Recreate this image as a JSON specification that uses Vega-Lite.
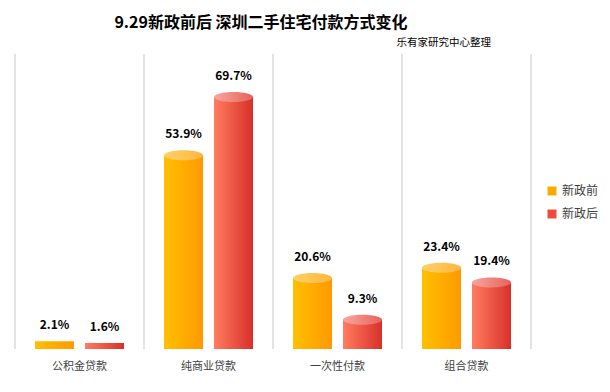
{
  "$schema": "https://vega.github.io/schema/vega-lite/v6.json",
  "width": 516,
  "height": 295,
  "autosize": {"type": "none"},
  "padding": {"left": 15, "top": 54, "right": 79, "bottom": 43},
  "background": "white",
  "config": {
    "font": "Noto Sans CJK SC",
    "view": {"stroke": null}
  },
  "title": {
    "text": "9.29新政前后 深圳二手住宅付款方式变化",
    "anchor": "middle",
    "frame": "group",
    "fontSize": 16,
    "fontWeight": "bold",
    "font": "Noto Sans CJK SC",
    "color": "#000000",
    "offset": 7,
    "dx": -12
  },
  "data": {
    "values": [
      {"cat": "公积金贷款", "series": "新政前", "value": 2.1, "label": "2.1%"},
      {"cat": "公积金贷款", "series": "新政后", "value": 1.6, "label": "1.6%"},
      {"cat": "纯商业贷款", "series": "新政前", "value": 53.9, "label": "53.9%"},
      {"cat": "纯商业贷款", "series": "新政后", "value": 69.7, "label": "69.7%"},
      {"cat": "一次性付款", "series": "新政前", "value": 20.6, "label": "20.6%"},
      {"cat": "一次性付款", "series": "新政后", "value": 9.3, "label": "9.3%"},
      {"cat": "组合贷款", "series": "新政前", "value": 23.4, "label": "23.4%"},
      {"cat": "组合贷款", "series": "新政后", "value": 19.4, "label": "19.4%"}
    ]
  },
  "encoding": {
    "x": {"field": "cat", "type": "nominal", "sort": ["公积金贷款", "纯商业贷款", "一次性付款", "组合贷款"],
      "scale": {"paddingInner": 0, "paddingOuter": 0},
      "axis": {"title": null, "domain": false, "ticks": false, "grid": false, "labelAngle": 0, "labelPadding": 11, "labelFontSize": 11, "labelColor": "#404040", "labelFont": "Noto Sans CJK SC"}},
    "xOffset": {"field": "series", "type": "nominal", "sort": ["新政前", "新政后"], "scale": {"paddingInner": 0.22, "paddingOuter": 0.4}},
    "y": {"field": "value", "type": "quantitative", "stack": null, "scale": {"domain": [0, 80], "nice": false}, "axis": null}
  },
  "layer": [
    {
      "mark": {"type": "rule", "color": "#D9D9D9", "strokeWidth": 1},
      "encoding": {
        "x": {"field": "cat", "type": "nominal", "sort": ["公积金贷款", "纯商业贷款", "一次性付款", "组合贷款"], "bandPosition": 0},
        "xOffset": null,
        "y": null
      }
    },
    {
      "transform": [{"filter": "datum.cat == '组合贷款'"}],
      "mark": {"type": "rule", "color": "#D9D9D9", "strokeWidth": 1},
      "encoding": {
        "x": {"field": "cat", "type": "nominal", "sort": ["公积金贷款", "纯商业贷款", "一次性付款", "组合贷款"], "bandPosition": 1},
        "xOffset": null,
        "y": null
      }
    },
    {
      "transform": [{"filter": "datum.value > 5"}],
      "mark": {"type": "bar", "yOffset": 5},
      "encoding": {
        "color": {
          "field": "series", "type": "nominal",
          "scale": {"domain": ["新政前", "新政后"], "range": ["#FFAA00", "#EE4B3C"]},
          "legend": {"title": null, "orient": "none", "legendX": 531, "legendY": 131, "symbolType": "square", "symbolSize": 81, "symbolStrokeWidth": 0, "labelFontSize": 12, "labelColor": "#404040", "labelFont": "Noto Sans CJK SC", "rowPadding": 11, "labelOffset": 4}
        }
      }
    },
    {
      "transform": [{"filter": "datum.value > 5 && datum.series == '新政前'"}],
      "mark": {"type": "bar", "yOffset": 5, "color": {"gradient": "linear", "x1": 0, "y1": 0, "x2": 1, "y2": 0, "stops": [{"offset": 0, "color": "#FFC000"}, {"offset": 1, "color": "#FF9900"}]}}
    },
    {
      "transform": [{"filter": "datum.value > 5 && datum.series == '新政后'"}],
      "mark": {"type": "bar", "yOffset": 5, "color": {"gradient": "linear", "x1": 0, "y1": 0, "x2": 1, "y2": 0, "stops": [{"offset": 0, "color": "#FF7D5F"}, {"offset": 1, "color": "#D8302A"}]}}
    },
    {
      "transform": [{"filter": "datum.value <= 5 && datum.series == '新政前'"}],
      "mark": {"type": "bar", "color": {"gradient": "linear", "x1": 0, "y1": 0, "x2": 1, "y2": 0, "stops": [{"offset": 0, "color": "#FFC000"}, {"offset": 1, "color": "#FF9900"}]}}
    },
    {
      "transform": [{"filter": "datum.value <= 5 && datum.series == '新政后'"}],
      "mark": {"type": "bar", "color": {"gradient": "linear", "x1": 0, "y1": 0, "x2": 1, "y2": 0, "stops": [{"offset": 0, "color": "#FF7D5F"}, {"offset": 1, "color": "#D8302A"}]}}
    },
    {
      "transform": [{"filter": "datum.value > 5 && datum.series == '新政前'"}],
      "mark": {"type": "point", "filled": true, "opacity": 1, "strokeWidth": 0, "size": 1521,
        "shape": "M -1 0.256 C -1 0.115 -0.552 0 0 0 C 0.552 0 1 0.115 1 0.256 C 1 0.398 0.552 0.513 0 0.513 C -0.552 0.513 -1 0.398 -1 0.256 Z",
        "fill": {"gradient": "linear", "x1": 0, "y1": 0, "x2": 1, "y2": 0, "stops": [{"offset": 0, "color": "#FFD166"}, {"offset": 1, "color": "#FFB640"}]}}
    },
    {
      "transform": [{"filter": "datum.value > 5 && datum.series == '新政后'"}],
      "mark": {"type": "point", "filled": true, "opacity": 1, "strokeWidth": 0, "size": 1521,
        "shape": "M -1 0.256 C -1 0.115 -0.552 0 0 0 C 0.552 0 1 0.115 1 0.256 C 1 0.398 0.552 0.513 0 0.513 C -0.552 0.513 -1 0.398 -1 0.256 Z",
        "fill": {"gradient": "linear", "x1": 0, "y1": 0, "x2": 1, "y2": 0, "stops": [{"offset": 0, "color": "#F8A69E"}, {"offset": 1, "color": "#E8625A"}]}}
    },
    {
      "mark": {"type": "text", "baseline": "bottom", "dy": -9, "fontSize": 12, "fontWeight": "bold", "color": "#000000", "font": "Noto Sans CJK SC"},
      "encoding": {
        "text": {"field": "label"}
      }
    },
    {
      "transform": [{"filter": "datum.cat == '组合贷款' && datum.series == '新政前'"}],
      "mark": {"type": "text", "align": "right", "baseline": "middle", "dx": -40, "fontSize": 10.5, "color": "#000000", "font": "Noto Sans CJK SC"},
      "encoding": {
        "x": {"field": "cat", "type": "nominal", "sort": ["公积金贷款", "纯商业贷款", "一次性付款", "组合贷款"], "bandPosition": 1},
        "xOffset": null,
        "y": {"datum": 83, "type": "quantitative"},
        "text": {"value": "乐有家研究中心整理"}
      }
    }
  ]
}
